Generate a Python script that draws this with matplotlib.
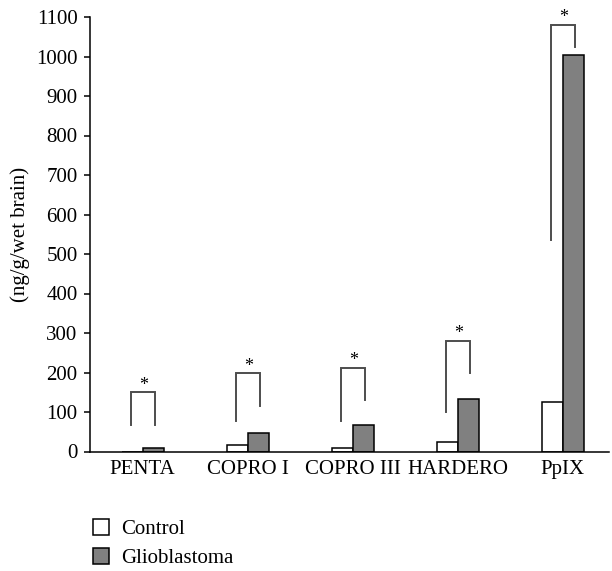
import numpy as np
import matplotlib
matplotlib.use('Agg')
import matplotlib.pyplot as plt
from matplotlib.patches import Patch

matplotlib.rcParams.update({'font.size': 15, 'font.family': 'Liberation Serif'})

categories = ['PENTA', 'COPRO I', 'COPRO III', 'HARDERO', 'PpIX']
control = [0, 17, 8, 23, 125]
glioblastoma = [9, 47, 67, 134, 1004]

# significance brackets: left leg bottom, top, right leg bottom
br_left = [67, 76, 76, 101, 535]
br_top = [150, 198, 212, 280, 1081]
br_right = [67, 116, 130, 200, 1025]

fig = plt.figure(figsize=(6.12, 5.71), dpi=100)
ax = fig.add_axes([90 / 612, 119.5 / 571, 519 / 612, 434.5 / 571])

x = np.arange(len(categories))
w = 0.2
ax.bar(x - w / 2, control, w, color='white', edgecolor='black', linewidth=1.1)
ax.bar(x + w / 2, glioblastoma, w, color='#808080', edgecolor='black', linewidth=1.1)

for i in range(len(categories)):
    xl = x[i] - 0.11
    xr = x[i] + 0.12
    ax.plot([xl, xl, xr, xr], [br_left[i], br_top[i], br_top[i], br_right[i]],
            color='#4d4d4d', linewidth=1.4, solid_joinstyle='miter')
    ax.annotate('*', ((xl + xr) / 2, br_top[i]), xytext=(0, 5), textcoords='offset points',
                ha='center', va='center', fontsize=13)

ax.set_xlim(-0.502, 4.44)
ax.set_ylim(0, 1100)
ax.set_yticks(range(0, 1101, 100))
ax.set_xticks(x)
ax.set_xticklabels(categories)
ax.tick_params(axis='x', length=0, pad=6)
ax.tick_params(axis='y', length=4, width=1.1, direction='out', pad=5)
for s in ['left', 'bottom']:
    ax.spines[s].set_linewidth(1.1)
ax.spines['top'].set_visible(False)
ax.spines['right'].set_visible(False)
ax.set_ylabel('(ng/g/wet brain)', labelpad=4)

handles = [Patch(facecolor='white', edgecolor='black', linewidth=1.1, label='Control'),
           Patch(facecolor='#808080', edgecolor='black', linewidth=1.1, label='Glioblastoma')]
fig.legend(handles=handles, loc='upper left', bbox_to_anchor=(92.5 / 612, 1 - 519 / 571),
           frameon=False, borderpad=0, borderaxespad=0, handlelength=0.77, handleheight=0.77,
           handletextpad=0.62, labelspacing=0.45)

plt.savefig('out.png')
